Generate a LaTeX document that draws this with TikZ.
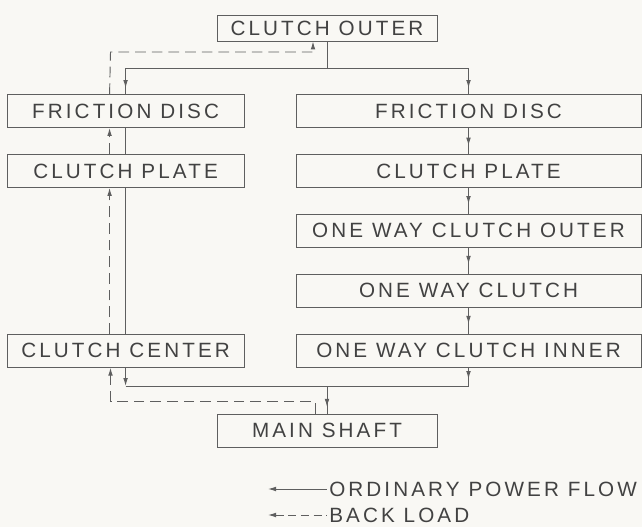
\documentclass[tikz,border=0pt]{standalone}
\usepackage{fontspec}
\newfontfamily\chartfont{Liberation Sans}[LetterSpace=15]
\usepackage{tikz}
\usetikzlibrary{arrows.meta, positioning, decorations.markings}
\definecolor{inkline}{RGB}{95,95,95}
\definecolor{inktext}{RGB}{66,66,66}
\definecolor{paper}{RGB}{249,248,244}

\begin{document}
\begin{tikzpicture}[
    x=0.75pt, y=-0.75pt,
    node distance=19.5pt and 38.25pt,
    box/.style={rectangle, draw=inkline, line width=0.7pt, minimum height=24.75pt, inner sep=0pt, text=inktext, font=\chartfont\fontsize{15.5}{18}\selectfont},
    leftbox/.style={box, minimum width=177.75pt},
    rightbox/.style={box, minimum width=258.75pt},
    midbox/.style={box, minimum width=165pt},
    legendtext/.style={text=inktext, inner sep=1.5pt, font=\chartfont\fontsize{15.5}{18}\selectfont},
    flow/.style={inkline, line width=0.7pt},
    back/.style={flow, dash pattern=on 8pt off 4.5pt},
    arrow/.style={-{Latex[length=6pt,width=3.5pt]}},
    tipat/.style={postaction={decorate}, decoration={markings, mark=at position #1 with {\arrow{Latex[length=6pt,width=3.5pt]}}}}
]
\fill[paper] (0,0) rectangle (642,527);
\useasboundingbox (0,0) rectangle (642,527);

% Top and bottom
\node[midbox, minimum height=19.5pt] (outer) at (327,28) {CLUTCH OUTER};
\node[midbox] (shaft) at (327,430.5) {MAIN SHAFT};

% Right column
\node[rightbox] (discR) at (468.5,111) {FRICTION DISC};
\node[rightbox, below=of discR] (plateR) {CLUTCH PLATE};
\node[rightbox, below=of plateR] (owOuter) {ONE WAY CLUTCH OUTER};
\node[rightbox, below=of owOuter] (owClutch) {ONE WAY CLUTCH};
\node[rightbox, below=of owClutch] (owInner) {ONE WAY CLUTCH INNER};

% Left column
\node[leftbox, left=of discR] (discL) {FRICTION DISC};
\node[leftbox, left=of plateR] (plateL) {CLUTCH PLATE};
\node[leftbox, left=of owInner] (centerL) {CLUTCH CENTER};

% Ordinary power flow
\coordinate (topsplit) at (327,68);
\coordinate (botsplit) at (327,386);
\draw[flow] (outer) -- (topsplit);
\draw[flow, tipat=-4.5pt] (topsplit) -| (discL);
\draw[flow, tipat=-4.5pt] (topsplit) -| (discR);
\draw[flow, tipat=0.68] (discR) -- (plateR);
\draw[flow, tipat=0.62] (plateR) -- (owOuter);
\draw[flow, tipat=0.62] (owOuter) -- (owClutch);
\draw[flow, tipat=0.62] (owClutch) -- (owInner);
\draw[flow] (discL) -- (plateL);
\draw[flow] (plateL) -- (centerL);
\draw[flow, arrow] (centerL) -- (centerL |- botsplit);
\draw[flow, tipat=0.62] (owInner) -- (owInner |- botsplit);
\draw[flow] (centerL |- botsplit) -- (owInner |- botsplit);
\draw[flow, tipat=-5pt] (botsplit) -- (shaft);

% Back load
\coordinate (backlow) at (110.5,401);
\coordinate (backhigh) at (110.5,52);
\draw[back, arrow] ([xshift=-9pt]shaft.north) |- (backlow) -- (backlow |- centerL.south);
\draw[back, arrow] ([xshift=-12pt]centerL.north) -- ([xshift=-12pt]plateL.south);
\draw[back, arrow] ([xshift=-12pt]plateL.north) -- ([xshift=-12pt]discL.south);
\draw[back, arrow] ([xshift=-12pt]discL.north) -- (backhigh) -| ([xshift=-10.5pt]outer.south);

% Legend
\node[legendtext, anchor=west] (legFlow) at (327,489) {ORDINARY POWER FLOW};
\node[legendtext, anchor=west] (legBack) at (327,515) {BACK LOAD};
\coordinate (legFlowEnd) at (268,489);
\coordinate (legBackEnd) at (268,515);
\draw[flow, {Latex[length=6pt,width=3.5pt]}-] (legFlowEnd) -- (legFlow);
\draw[flow, dash pattern=on 6pt off 3.5pt, {Latex[length=6pt,width=3.5pt]}-] (legBackEnd) -- (legBack);

\end{tikzpicture}
\end{document}
